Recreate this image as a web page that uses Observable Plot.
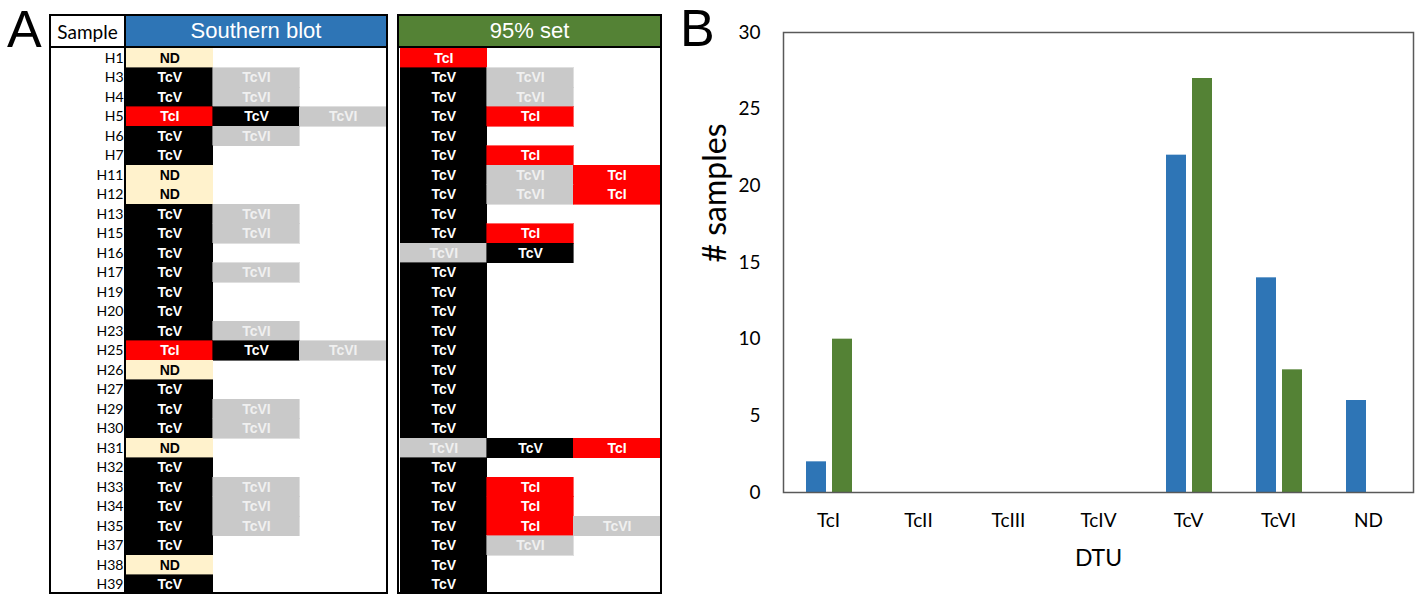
<!DOCTYPE html>
<html><head><meta charset="utf-8">
<script src="https://cdn.jsdelivr.net/npm/d3@7"></script>
<script src="https://cdn.jsdelivr.net/npm/@observablehq/plot@0.6"></script>
<style>
body{margin:0;background:#fff;}
#root{position:relative;width:1418px;height:594px;overflow:hidden;background:#fff;font-family:"Liberation Sans",Arial,sans-serif;}
.abs{position:absolute;box-sizing:border-box;}
.hdr{position:absolute;box-sizing:border-box;display:flex;align-items:center;justify-content:center;}
</style></head><body><div id="root"></div>
<script>
// ---- Panel A data ----
const samples = ["H1","H3","H4","H5","H6","H7","H11","H12","H13","H15","H16","H17","H19","H20","H23","H25","H26","H27","H29","H30","H31","H32","H33","H34","H35","H37","H38","H39"];
const southern1 = ["ND","TcV","TcV","TcI","TcV","TcV","ND","ND","TcV","TcV","TcV","TcV","TcV","TcV","TcV","TcI","ND","TcV","TcV","TcV","ND","TcV","TcV","TcV","TcV","TcV","ND","TcV"];
const southern2 = ["","TcVI","TcVI","TcV","TcVI","","","","TcVI","TcVI","","TcVI","","","TcVI","TcV","","","TcVI","TcVI","","","TcVI","TcVI","TcVI","","",""];
const southern3 = ["","","","TcVI","","","","","","","","","","","","TcVI","","","","","","","","","","","",""];
const set95_1 = ["TcI","TcV","TcV","TcV","TcV","TcV","TcV","TcV","TcV","TcV","TcVI","TcV","TcV","TcV","TcV","TcV","TcV","TcV","TcV","TcV","TcVI","TcV","TcV","TcV","TcV","TcV","TcV","TcV"];
const set95_2 = ["","TcVI","TcVI","TcI","","TcI","TcVI","TcVI","","TcI","TcV","","","","","","","","","","TcV","","TcI","TcI","TcI","TcVI","",""];
const set95_3 = ["","","","","","","TcI","TcI","","","","","","","","","","","","","TcI","","","","TcVI","","",""];
const dtuTypes = ["TcI","TcV","TcVI","ND"];
const dtuFill = ["#FF0000","#000000","#C9C9C9","#FFF2CC"];

// ---- Panel B data ----
const dtus = ["TcI","TcII","TcIII","TcIV","TcV","TcVI","ND"];
const southernCounts = [2,0,0,0,22,14,6];
const set95Counts = [10,0,0,0,27,8,0];

const root = document.getElementById("root");
function add(html){ const t=document.createElement("div"); t.innerHTML=html; const el=t.firstElementChild; root.appendChild(el); return el; }

function longTable(cols){
  const out=[];
  samples.forEach((s,i)=>cols.forEach((c,j)=>{ if(c[i]) out.push({sample:s,col:j,dtu:c[i]}); }));
  return out;
}

function tablePlot(data, withAxis, width, marginLeft){
  const txt = (filter, fill) => Plot.text(data.filter(filter), {x:"col", y:"sample", text:"dtu", fill, fontWeight:"bold", fontSize:14, fontFamily:"Liberation Sans, Arial, sans-serif"});
  return Plot.plot({
    width, height:546, marginLeft, marginRight:0, marginTop:0, marginBottom:0,
    x:{type:"band", domain:[0,1,2], padding:0, round:false, axis:null},
    y:{type:"band", domain:samples, padding:0, round:false, axis: withAxis ? "left" : null, tickSize:0, tickPadding:3, label:null},
    color:{domain:dtuTypes, range:dtuFill},
    style:{fontFamily:"Lato, sans-serif", fontSize:"14px", background:"transparent", color:"#000"},
    marks:[
      Plot.cell(data, {x:"col", y:"sample", fill:"dtu", stroke:"dtu", strokeWidth:0.6, inset:0, shapeRendering:"crispEdges"}),
      txt(d=>d.dtu==="TcI"||d.dtu==="TcV", "#ffffff"),
      txt(d=>d.dtu==="TcVI", "#F0F0F0"),
      txt(d=>d.dtu==="ND", "#000000")
    ]
  });
}

// Panel labels
add('<div class="abs" style="left:7px;top:0px;font-size:52px;line-height:58px;font-family:Liberation Sans,Arial,sans-serif;">A</div>');
add('<div class="abs" style="left:680px;top:0px;font-size:52px;line-height:56px;font-family:Liberation Sans,Arial,sans-serif;">B</div>');

// Left table
const leftPlot = tablePlot(longTable([southern1,southern2,southern3]), true, 335, 75);
leftPlot.style.position="absolute"; leftPlot.style.left="51px"; leftPlot.style.top="48px";
root.appendChild(leftPlot);
add('<div class="hdr" style="left:51px;top:16px;width:73px;height:30px;font-family:Lato,sans-serif;font-size:19px;color:#000;">Sample</div>');
add('<div class="hdr" style="left:126px;top:16px;width:260px;height:30px;background:#2E75B6;color:#fff;font-size:22px;">Southern blot</div>');
add('<div class="abs" style="left:51px;top:46px;width:335px;height:2px;background:#000;"></div>');
add('<div class="abs" style="left:124px;top:16px;width:2px;height:578px;background:#000;"></div>');
add('<div class="abs" style="left:49px;top:14px;width:339px;height:580px;border:2px solid #000;"></div>');

// Right table
const rightPlot = tablePlot(longTable([set95_1,set95_2,set95_3]), false, 260, 0);
rightPlot.style.position="absolute"; rightPlot.style.left="400px"; rightPlot.style.top="48px";
root.appendChild(rightPlot);
add('<div class="hdr" style="left:399px;top:16px;width:261px;height:30px;background:#548235;color:#fff;font-size:22px;">95% set</div>');
add('<div class="abs" style="left:399px;top:46px;width:261px;height:2px;background:#000;"></div>');
add('<div class="abs" style="left:397px;top:14px;width:265px;height:580px;border:2px solid #000;"></div>');

// Panel B chart
const barData = dtus.map((d,i)=>({dtu:d, southern:southernCounts[i], set95:set95Counts[i]}));
const chart = Plot.plot({
  width:738, height:594, marginLeft:103, marginRight:5, marginTop:32, marginBottom:102,
  x:{domain:dtus, padding:0, tickSize:0, tickPadding:21, label:null},
  y:{domain:[0,30], ticks:[0,5,10,15,20,25,30], tickSize:0, tickPadding:23, label:null},
  style:{fontFamily:"Lato, sans-serif", fontSize:"19px", background:"transparent", color:"#000"},
  marks:[
    Plot.barY(barData, {x:"dtu", y:"southern", fill:"#2E75B6", insetLeft:23, insetRight:47}),
    Plot.barY(barData, {x:"dtu", y:"set95", fill:"#548235", insetLeft:49, insetRight:21}),
    Plot.frame({stroke:"#595959", strokeWidth:1.5}),
    Plot.text(["DTU"], {frameAnchor:"bottom", dy:73, fontSize:23, text:d=>d, fill:"#000"}),
    Plot.text(["# samples"], {frameAnchor:"left", dx:-68, rotate:-90, fontSize:32, text:d=>d, fill:"#000"})
  ]
});
chart.style.position="absolute"; chart.style.left="680px"; chart.style.top="0px";
root.appendChild(chart);
</script>
</body></html>
